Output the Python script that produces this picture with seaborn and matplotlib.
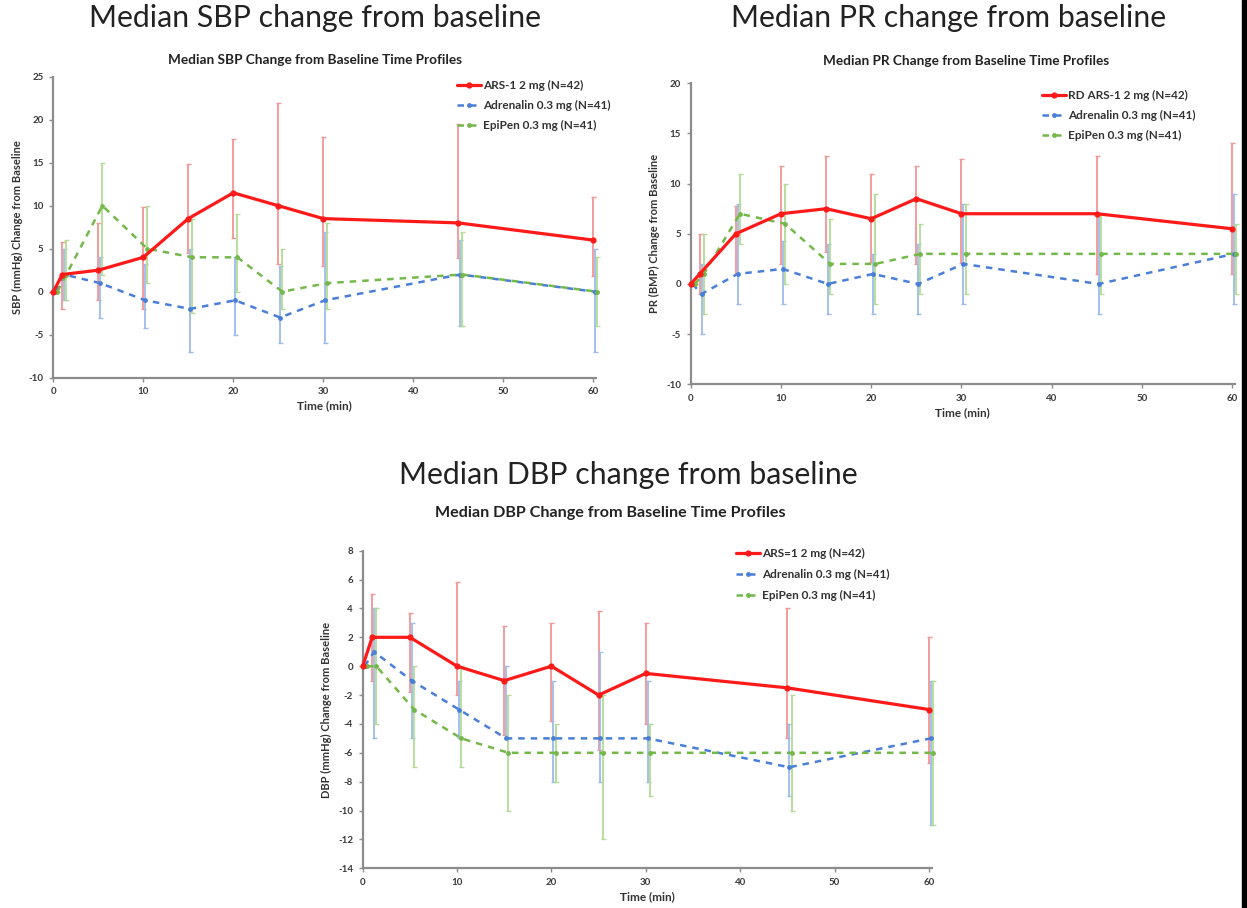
import matplotlib
matplotlib.use('Agg')
import pandas as pd
import matplotlib.pyplot as plt
import seaborn as sns
from matplotlib.lines import Line2D
from matplotlib.patches import Rectangle

time = [0, 1, 5, 10, 15, 20, 25, 30, 45, 60]

# SBP (mmHg) medians and error-bar limits
sbp_ars = [0, 2, 2.5, 4, 8.5, 11.5, 10, 8.5, 8, 6]
sbp_ars_lo = [0, -2, -1, -2, 4.5, 6.2, 3.2, 3, 3.9, 1.8]
sbp_ars_hi = [0, 5.8, 8, 9.8, 14.8, 17.8, 22, 18, 19.5, 11]
sbp_adr = [0, 2, 1, -1, -2, -1, -3, -1, 2, 0]
sbp_adr_lo = [0, -1, -3, -4.2, -7, -5, -6, -6, -4, -7]
sbp_adr_hi = [0, 5, 4, 3.2, 5, 4, 3, 7, 6, 5]
sbp_epi = [0, 2, 10, 5, 4, 4, 0, 1, 2, 0]
sbp_epi_lo = [0, -1, 2, 1, -2.5, 0, -2, -2, -4, -4]
sbp_epi_hi = [0, 6, 15, 10, 8.5, 9, 5, 8, 7, 4]

# PR (BMP)
pr_ars = [0, 1, 5, 7, 7.5, 6.5, 8.5, 7, 7, 5.5]
pr_ars_lo = [0, -1, 1, 2, 3.2, 2.2, 2, 2.1, 1, 1]
pr_ars_hi = [0, 5, 7.8, 11.8, 12.8, 11, 11.8, 12.5, 12.8, 14]
pr_adr = [0, -1, 1, 1.5, 0, 1, 0, 2, 0, 3]
pr_adr_lo = [0, -5, -2, -2, -3, -3, -3, -2, -3, -2]
pr_adr_hi = [0, 2, 8, 4.3, 4, 3, 4, 8, 7, 9]
pr_epi = [0, 1, 7, 6, 2, 2, 3, 3, 3, 3]
pr_epi_lo = [0, -3, 4, 0, -1, -2, -1, -1, -1, -1]
pr_epi_hi = [0, 5, 11, 10, 6.5, 9, 6, 8, 7, 6]

# DBP (mmHg)
dbp_ars = [0, 2, 2, 0, -1, 0, -2, -0.5, -1.5, -3]
dbp_ars_lo = [0, -1, -1.8, -2, -4.8, -3.8, -5.8, -4, -5, -6.7]
dbp_ars_hi = [0, 5, 3.7, 5.8, 2.8, 3, 3.8, 3, 4, 2]
dbp_adr = [0, 1, -1, -3, -5, -5, -5, -5, -7, -5]
dbp_adr_lo = [0, -5, -5, -5, -5, -8, -8, -8, -9, -11]
dbp_adr_hi = [0, 4, 3, -1, 0, -1, 1, -1, -4, -1]
dbp_epi = [0, 0, -3, -5, -6, -6, -6, -6, -6, -6]
dbp_epi_lo = [0, -4, -7, -7, -10, -8, -12, -9, -10, -11]
dbp_epi_hi = [0, 4, 0, 0, -2, -4, -2, -4, -2, -1]

adr_label = 'Adrenalin 0.3 mg (N=41)'
epi_label = 'EpiPen 0.3 mg (N=41)'

sns.set_style('white')
plt.rcParams['font.family'] = ['Lato', 'DejaVu Sans']

RED, BLUE, GREEN = '#ff1a1a', '#4a7fd8', '#74b84a'
RED_E, BLUE_E, GREEN_E = '#f59494', '#9dbbec', '#b2dc94'
DASH = (0, (2.6, 2.4))

fig = plt.figure(figsize=(12.47, 9.08), dpi=100)
W, H = 1247, 908


def px_axes(x0, x1, ytop, ybot):
    return fig.add_axes([x0 / W, 1 - ybot / H, (x1 - x0) / W, (ybot - ytop) / H])


def panel(ax, series, ylim, yticks, ylabel, legend_xy, spacing):
    # series: (label, y, lo, hi, color, err color, offset, dashed)
    for label, y, lo, hi, col, ecol, off, dashed in series:
        xs = [t + off for t in time]
        yerr = [[v - l for v, l in zip(y, lo)], [h - v for v, h in zip(y, hi)]]
        ax.errorbar(xs, y, yerr=yerr, fmt='none', ecolor=ecol, elinewidth=1.3,
                    capsize=1.8, capthick=1.0, zorder=2, clip_on=False)
    for label, y, lo, hi, col, ecol, off, dashed in series:
        df = pd.DataFrame({'t': [t + off for t in time], 'v': y})
        if dashed:
            sns.lineplot(data=df, x='t', y='v', ax=ax, color=col, lw=1.8,
                         linestyle=DASH, marker='o', markersize=3.5,
                         markeredgewidth=0, zorder=3, clip_on=False)
        else:
            sns.lineplot(data=df, x='t', y='v', ax=ax, color=col, lw=2.3,
                         marker='o', markersize=4.5, markeredgewidth=0,
                         zorder=4, clip_on=False)
    ax.set_xlim(0, 60.3)
    ax.set_ylim(*ylim)
    xt = list(range(0, 61, 10))
    ax.set_xticks(xt, labels=[str(v) for v in xt], fontweight='bold')
    ax.set_yticks(list(yticks), labels=[str(v) for v in yticks], fontweight='bold')
    sns.despine(ax=ax)
    for s in ['left', 'bottom']:
        ax.spines[s].set_color('#8c8c8c')
        ax.spines[s].set_linewidth(1.6)
    ax.tick_params(axis='both', direction='out', length=3, width=1, color='#8c8c8c',
                   labelsize=7, labelcolor='#3a3a3a', pad=4, bottom=True, left=True)
    ax.set_xlabel('Time (min)', fontsize=8.5, fontweight='bold', color='#333333',
                  labelpad=3)
    ax.set_ylabel(ylabel, fontsize=8, fontweight='bold', color='#333333', labelpad=4)
    handles = []
    for label, y, lo, hi, col, ecol, off, dashed in series:
        if dashed:
            handles.append(Line2D([], [], color=col, lw=1.8, linestyle=DASH,
                                  marker='o', markersize=3.5, markeredgewidth=0))
        else:
            handles.append(Line2D([], [], color=col, lw=2.3, marker='o',
                                  markersize=4.5, markeredgewidth=0))
    ax.legend(handles, [s[0] for s in series], loc='upper left',
              bbox_to_anchor=(legend_xy[0] / W, 1 - legend_xy[1] / H),
              bbox_transform=fig.transFigure, frameon=False,
              prop={'size': 8.5, 'weight': 'bold'}, handlelength=2.0,
              handletextpad=0.2, labelspacing=spacing, borderpad=0, borderaxespad=0,
              labelcolor='#333333')


ax1 = px_axes(53.3, 596, 76.7, 377.7)
panel(ax1, [
    ('ARS-1 2 mg (N=42)', sbp_ars, sbp_ars_lo, sbp_ars_hi, RED, RED_E, 0.0, False),
    (adr_label, sbp_adr, sbp_adr_lo, sbp_adr_hi, BLUE, BLUE_E, 0.2, True),
    (epi_label, sbp_epi, sbp_epi_lo, sbp_epi_hi, GREEN, GREEN_E, 0.45, True),
], (-10, 25), range(-10, 26, 5), 'SBP (mmHg) Change from Baseline', (457, 80), 0.75)

ax2 = px_axes(690.7, 1235, 83.3, 384.3)
panel(ax2, [
    ('RD ARS-1 2 mg (N=42)', pr_ars, pr_ars_lo, pr_ars_hi, RED, RED_E, 0.0, False),
    (adr_label, pr_adr, pr_adr_lo, pr_adr_hi, BLUE, BLUE_E, 0.2, True),
    (epi_label, pr_epi, pr_epi_lo, pr_epi_hi, GREEN, GREEN_E, 0.45, True),
], (-10, 20), range(-10, 21, 5), 'PR (BMP) Change from Baseline', (1042, 90), 0.75)

ax3 = px_axes(362.7, 931.7, 550.7, 868.3)
panel(ax3, [
    ('ARS=1 2 mg (N=42)', dbp_ars, dbp_ars_lo, dbp_ars_hi, RED, RED_E, 0.0, False),
    (adr_label, dbp_adr, dbp_adr_lo, dbp_adr_hi, BLUE, BLUE_E, 0.2, True),
    (epi_label, dbp_epi, dbp_epi_lo, dbp_epi_hi, GREEN, GREEN_E, 0.45, True),
], (-14, 8), range(-14, 9, 2), 'DBP (mmHg) Change from Baseline', (736, 548), 0.85)

# big headings and chart subtitles
fig.text(315 / W, 1 - 18 / H, 'Median SBP change from baseline', ha='center', va='center',
         fontsize=21.8, color='#222222')
fig.text(315 / W, 1 - 60 / H, 'Median SBP Change from Baseline Time Profiles', ha='center',
         va='center', fontsize=9.8, fontweight='bold', color='#222222')
fig.text(949 / W, 1 - 18 / H, 'Median PR change from baseline', ha='center', va='center',
         fontsize=21.8, color='#222222')
fig.text(966 / W, 1 - 61 / H, 'Median PR Change from Baseline Time Profiles', ha='center',
         va='center', fontsize=9.8, fontweight='bold', color='#222222')
fig.text(628 / W, 1 - 475 / H, 'Median DBP change from baseline', ha='center', va='center',
         fontsize=21.8, color='#222222')
fig.text(610 / W, 1 - 513 / H, 'Median DBP Change from Baseline Time Profiles', ha='center',
         va='center', fontsize=11.6, fontweight='bold', color='#222222')

# dark border on the right edge of the image
fig.patches.append(Rectangle((1241.5 / W, 0), 6 / W, 1, transform=fig.transFigure,
                             color='black', zorder=10))

fig.savefig('out.png', dpi=100, facecolor='white')
